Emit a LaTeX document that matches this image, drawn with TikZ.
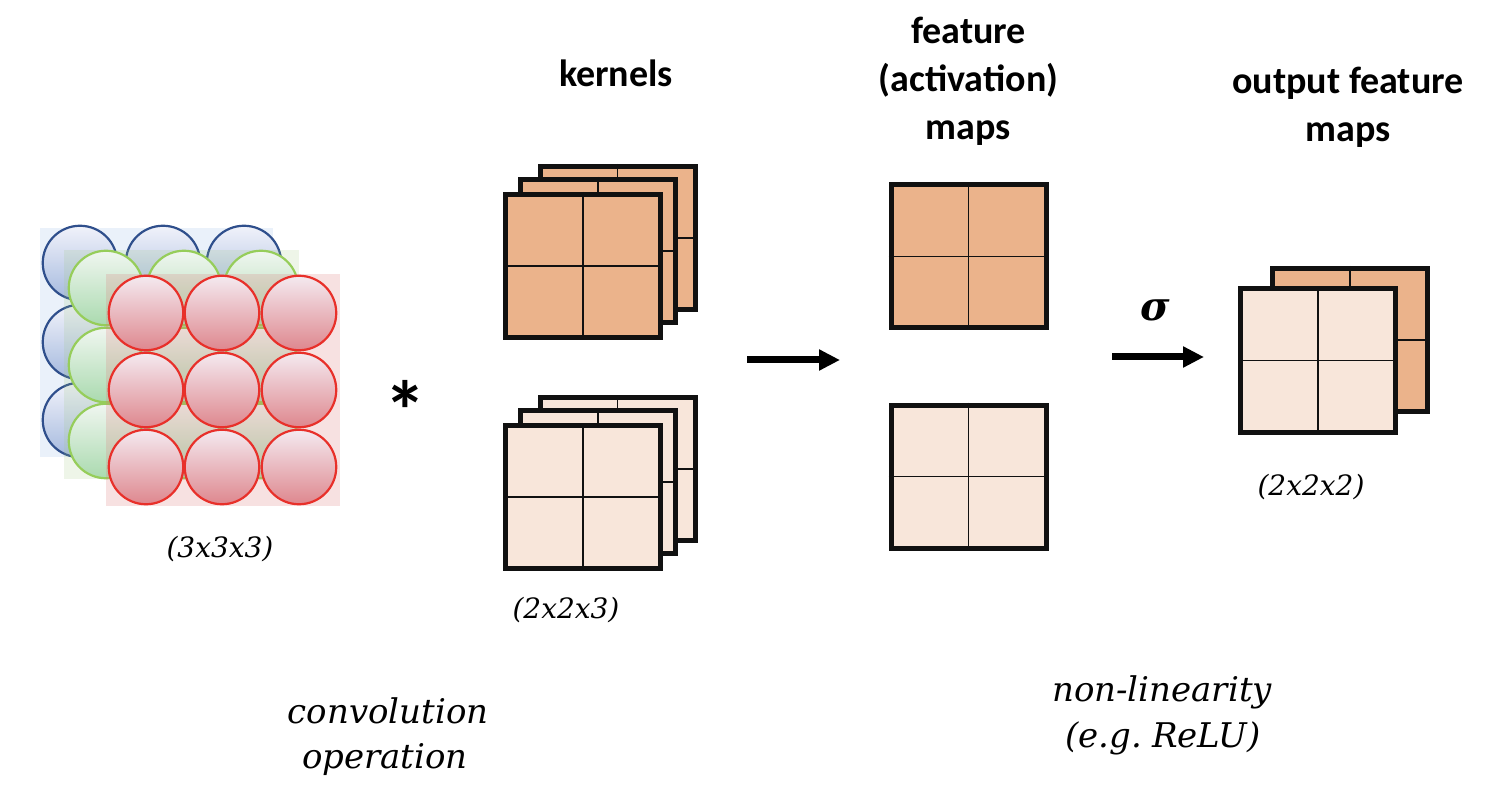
\documentclass[tikz,border=0pt]{standalone}
\usepackage{fontspec}
\usetikzlibrary{arrows.meta}
\newfontfamily\titlef{Carlito}
\newfontfamily\capf{DejaVu Serif}[WordSpace=0.6]
\definecolor{kdark}{RGB}{235,179,139}
\definecolor{klight}{RGB}{248,230,218}
\definecolor{kedge}{RGB}{17,17,17}
\definecolor{bluedraw}{RGB}{47,79,140}
\definecolor{bluetop}{RGB}{240,242,250}
\definecolor{bluebot}{RGB}{165,185,222}
\definecolor{bluesq}{RGB}{140,180,225}
\definecolor{greendraw}{RGB}{150,205,90}
\definecolor{greentop}{RGB}{240,246,240}
\definecolor{greenbot}{RGB}{170,218,175}
\definecolor{greensq}{RGB}{160,200,130}
\definecolor{reddraw}{RGB}{232,48,42}
\definecolor{redtop}{RGB}{244,234,240}
\definecolor{redbot}{RGB}{222,135,142}
\definecolor{redsq}{RGB}{220,120,120}
\tikzset{
  gridbox/.style={rectangle, draw=kedge, line width=5pt, minimum width=155pt, minimum height=143pt, inner sep=0pt},
  darkbox/.style={gridbox, fill=kdark},
  lightbox/.style={gridbox, fill=klight},
  midline/.style={draw=kedge, line width=1.4pt},
  ball/.style={circle, line width=2.2pt, minimum size=74.5pt, inner sep=0pt},
  blueball/.style={ball, draw=bluedraw, top color=bluetop, bottom color=bluebot},
  greenball/.style={ball, draw=greendraw, top color=greentop, bottom color=greenbot},
  redball/.style={ball, draw=reddraw, top color=redtop, bottom color=redbot},
  titletext/.style={font=\titlef\bfseries\fontsize{38}{46}\selectfont, anchor=base, inner sep=0pt},
  captext/.style={font=\capf\itshape\fontsize{34}{40}\selectfont, anchor=base, inner sep=0pt},
  dimtext/.style={font=\capf\itshape\fontsize{28}{34}\selectfont, anchor=base, inner sep=0pt},
  bigarrow/.style={line width=7pt, -{Triangle[length=21pt,width=20pt]}},
}
\newcommand\gridlines[1]{%
  \draw[midline] (#1.north) -- (#1.south);
  \draw[midline] (#1.west) -- (#1.east);}
\begin{document}
\begin{tikzpicture}[x=1pt,y=-1pt]
\useasboundingbox (0,0) rectangle (1508,794);
% ---------- input volume ----------
\fill[bluesq, opacity=0.18] (40,228) rectangle (273,457);
\foreach \r/\yy in {1/263,2/342,3/420}{
  \foreach \c/\xx in {1/80,2/163,3/244}{
    \node[blueball] (b\r\c) at (\xx,\yy) {};}}
\fill[greensq, opacity=0.18] (64,250) rectangle (299,479);
\foreach \r/\yy in {1/288,2/365,3/441}{
  \foreach \c/\xx in {1/106,2/184,3/261}{
    \node[greenball] (g\r\c) at (\xx,\yy) {};}}
\fill[redsq, opacity=0.22] (106,274) rectangle (340,506);
\foreach \r/\yy in {1/313,2/390,3/467}{
  \foreach \c/\xx in {1/146,2/222,3/299}{
    \node[redball] (r\r\c) at (\xx,\yy) {};}}
\node[dimtext] (dimin) at (220,557) {(3x3x3)};
% ---------- star ----------
\node[font=\titlef\bfseries\fontsize{84}{88}\selectfont, inner sep=0pt] (star) at (405,410) {*};
% ---------- kernels ----------
\node[titletext] (tkern) at (616,87) {kernels};
\node[darkbox] (ka3) at (617.5,238) {}; \gridlines{ka3}
\node[darkbox] (ka2) at (598,251) {}; \gridlines{ka2}
\node[darkbox] (ka1) at (583,266) {}; \gridlines{ka1}
\node[lightbox] (kb3) at (617.5,469) {}; \gridlines{kb3}
\node[lightbox] (kb2) at (598,482) {}; \gridlines{kb2}
\node[lightbox] (kb1) at (583,497) {}; \gridlines{kb1}
\node[dimtext] (dimk) at (566,618) {(2x2x3)};
% ---------- arrow 1 ----------
\coordinate (a1s) at (747,360);
\coordinate (a1e) at (840,360);
\draw[bigarrow] (a1s) -- (a1e);
% ---------- feature maps ----------
\node[titletext] (tf1) at (968.5,44) {feature};
\node[titletext] (tf2) at (968.5,92) {(activation)};
\node[titletext] (tf3) at (968.5,140) {maps};
\node[darkbox] (fa) at (968.5,256.5) {}; \gridlines{fa}
\node[lightbox] (fb) at (968.5,476.5) {}; \gridlines{fb}
% ---------- arrow 2 ----------
\coordinate (a2s) at (1112,357);
\coordinate (a2e) at (1204,357);
\draw[bigarrow] (a2s) -- (a2e);
\node[font=\capf\bfseries\itshape\fontsize{40}{44}\selectfont, inner sep=0pt] (sig) at (1155,310) {σ};
% ---------- output ----------
\node[titletext] (to1) at (1348,94) {output feature};
\node[titletext] (to2) at (1348,142) {maps};
\node[darkbox] (ob) at (1350,340) {}; \gridlines{ob}
\node[lightbox] (of) at (1318,360.5) {}; \gridlines{of}
\node[dimtext] (dimo) at (1311,495) {(2x2x2)};
% ---------- captions ----------
\node[captext] (c1) at (388,723) {convolution};
\node[captext] (c2) at (385,768) {operation};
\node[captext] (n1) at (1162,701) {non-linearity};
\node[captext] (n2) at (1163,747) {(e.g. ReLU)};
\end{tikzpicture}
\end{document}
